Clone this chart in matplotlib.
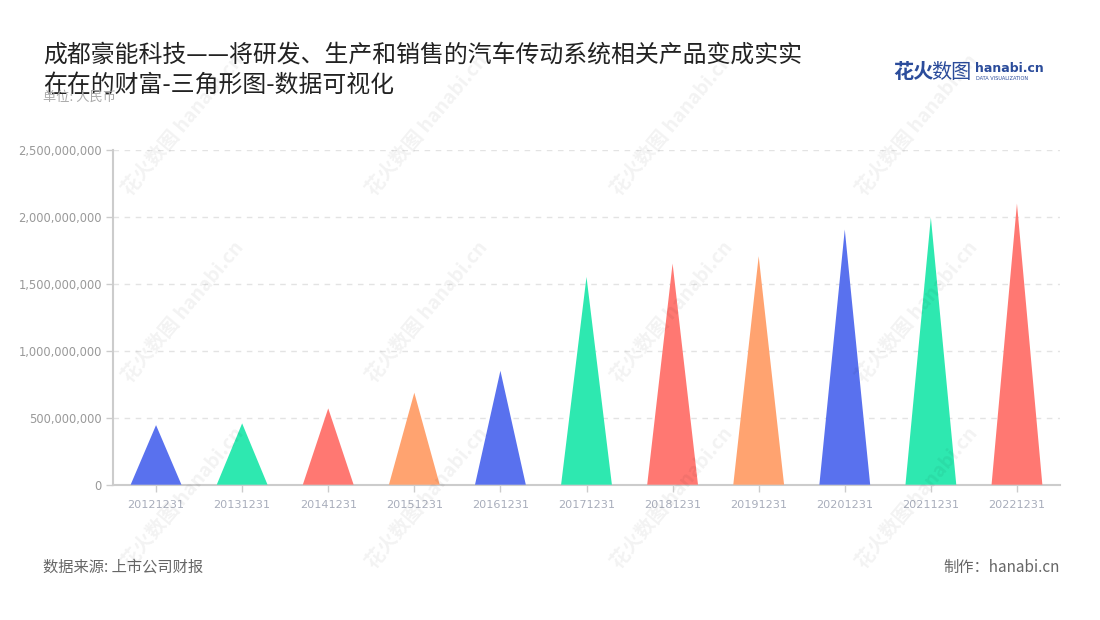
import matplotlib
matplotlib.use("Agg")
import matplotlib.pyplot as plt
from matplotlib.ticker import FuncFormatter

plt.rcParams['font.family'] = ['Noto Sans CJK SC', 'DejaVu Sans']

# data
dates = ['20121231', '20131231', '20141231', '20151231', '20161231', '20171231',
         '20181231', '20191231', '20201231', '20211231', '20221231']
values = [445e6, 458e6, 570e6, 687e6, 851e6, 1552e6,
          1652e6, 1707e6, 1906e6, 1996e6, 2100e6]
palette = ['#5971ee', '#2ee8b0', '#ff7872', '#ffa370']
title = '成都豪能科技——将研发、生产和销售的汽车传动系统相关产品变成实实\n在在的财富-三角形图-数据可视化'

W, H = 1100, 620
fig = plt.figure(figsize=(W / 100, H / 100), dpi=100)
fig.patch.set_facecolor('white')

ax = fig.add_axes([113 / W, 1 - 484.7 / H, 947 / W, 334.7 / H])
ax.set_xlim(-0.5, len(dates) - 0.5)
ax.set_ylim(0, 2.5e9)

# triangles
bw = 0.59
for i, v in enumerate(values):
    ax.fill([i - bw / 2, i, i + bw / 2], [0, v, 0],
            color=palette[i % 4], lw=0, zorder=3)

ax.set_yticks([0, 5e8, 1e9, 1.5e9, 2e9, 2.5e9])
ax.yaxis.set_major_formatter(FuncFormatter(lambda v, p: f'{int(v):,}'))
ax.set_xticks(range(len(dates)))
ax.set_xticklabels(dates)

ax.grid(axis='y', color='#e3e3e3', linestyle=(0, (4, 4)), linewidth=1, zorder=0)
ax.set_axisbelow(True)
for s in ['top', 'right']:
    ax.spines[s].set_visible(False)
for s in ['left', 'bottom']:
    ax.spines[s].set_color('#cccccc')
    ax.spines[s].set_linewidth(1.5)
ax.tick_params(axis='y', colors='#cccccc', labelcolor='#999999', length=5,
               width=1, labelsize=8.3, pad=3)
ax.tick_params(axis='x', colors='#cccccc', labelcolor='#a8adbb', length=5,
               width=1, labelsize=8.1, pad=6)
for lab in ax.get_xticklabels() + ax.get_yticklabels():
    lab.set_family('DejaVu Sans')

# titles and notes
fig.text(43 / W, 1 - 44 / H, title, ha='left', va='top', fontsize=17.2,
         color='#222222', linespacing=1.4)
fig.text(43 / W, 1 - 97 / H, '单位: 人民币', ha='left', va='center',
         fontsize=9.5, color='#aaaaaa')
fig.text(43 / W, 1 - 567 / H, '数据来源: 上市公司财报', ha='left', va='center',
         fontsize=11, color='#666666')
fig.text(1060 / W, 1 - 567 / H, '制作：hanabi.cn', ha='right', va='center',
         fontsize=11, color='#666666')

# logo
fig.text(893 / W, 1 - 72 / H, '花火', ha='left', va='center', fontsize=14.5,
         color='#2b4c9b', fontweight='bold')
fig.text(931 / W, 1 - 72 / H, '数图', ha='left', va='center', fontsize=14.5,
         color='#2b4c9b')
fig.text(975 / W, 1 - 69 / H, 'hanabi.cn', ha='left', va='center', fontsize=9,
         color='#2b4c9b', fontweight='bold', family='DejaVu Sans')
fig.text(976 / W, 1 - 79 / H, 'DATA VISUALIZATION', ha='left', va='center',
         fontsize=3.6, color='#2b4c9b', family='DejaVu Sans')

# watermarks
for wx in [183, 427, 672, 917]:
    for wy in [125, 312, 498]:
        fig.text(wx / W, 1 - wy / H, '花火数图 hanabi.cn', ha='center', va='center',
                 rotation=50, fontsize=14, fontweight='bold', color='#000000',
                 alpha=0.05, zorder=10)

fig.savefig('out.png', dpi=100, facecolor='white')
